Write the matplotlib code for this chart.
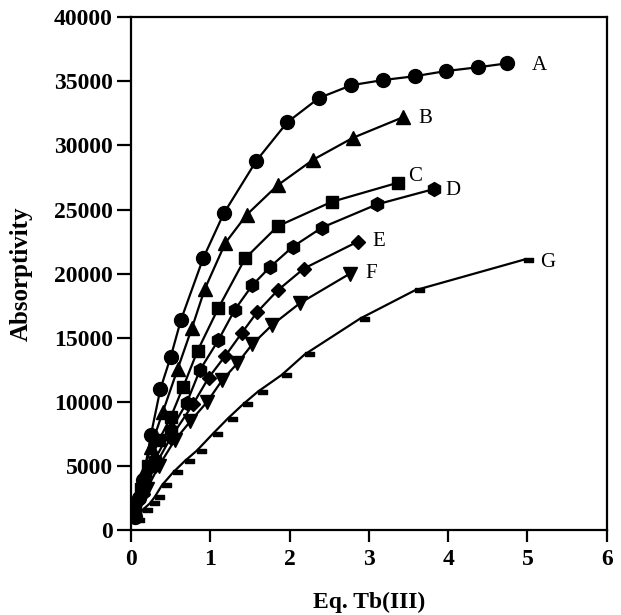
import matplotlib.pyplot as plt
from matplotlib.path import Path

# Absorptivity titration curves, one per sample
a_x = [0.05, 0.10, 0.15, 0.25, 0.37, 0.50, 0.63, 0.91, 1.17, 1.58, 1.97, 2.37, 2.78, 3.18, 3.58, 3.97, 4.38, 4.74]
a_y = [1000, 2500, 3900, 7400, 11000, 13500, 16400, 21200, 24700, 28800, 31800, 33700, 34700, 35100, 35400, 35800, 36100, 36400]

b_x = [0.00, 0.10, 0.17, 0.25, 0.40, 0.59, 0.77, 0.93, 1.19, 1.46, 1.85, 2.30, 2.80, 3.43]
b_y = [1800, 3000, 4700, 6500, 9200, 12600, 15800, 18800, 22400, 24600, 26900, 28900, 30600, 32200]

c_x = [0.05, 0.12, 0.22, 0.35, 0.50, 0.66, 0.84, 1.10, 1.44, 1.85, 2.53, 3.37]
c_y = [1500, 3200, 5000, 7000, 8800, 11200, 14000, 17300, 21200, 23700, 25600, 27100]

d_x = [0.05, 0.15, 0.30, 0.50, 0.70, 0.87, 1.10, 1.31, 1.53, 1.75, 2.04, 2.41, 3.10, 3.82]
d_y = [1200, 3000, 5500, 7800, 9900, 12500, 14800, 17200, 19100, 20500, 22100, 23600, 25400, 26600]

e_x = [0.05, 0.15, 0.30, 0.50, 0.78, 0.98, 1.19, 1.40, 1.59, 1.85, 2.18, 2.86]
e_y = [1100, 2800, 5000, 7200, 9800, 11900, 13600, 15400, 17000, 18700, 20400, 22500]

f_x = [0.08, 0.20, 0.35, 0.55, 0.75, 0.96, 1.15, 1.34, 1.53, 1.78, 2.13, 2.76]
f_y = [1800, 3200, 5000, 7000, 8500, 10000, 11700, 13000, 14500, 16000, 17700, 20000]

g_x = [0.05, 0.15, 0.24, 0.30, 0.39, 0.53, 0.68, 0.83, 1.03, 1.22, 1.41, 1.60, 1.90, 2.19, 2.89, 3.58, 4.96]
g_y = [800, 1600, 2100, 2600, 3500, 4500, 5400, 6200, 7500, 8700, 9800, 10800, 12100, 13700, 16500, 18700, 21100]

labels = ['A', 'B', 'C', 'D', 'E', 'F', 'G']
label_x = [5.06, 3.62, 3.49, 3.97, 3.05, 2.96, 5.16]
label_y = [36200, 32100, 27600, 26500, 22500, 20000, 20900]

# dash marker sitting to the right of its point
dash = Path([(0, -0.2), (1, -0.2), (1, 0.2), (0, 0.2), (0, -0.2)],
            [Path.MOVETO, Path.LINETO, Path.LINETO, Path.LINETO, Path.CLOSEPOLY])

plt.rcParams['font.family'] = ['Liberation Serif', 'DejaVu Serif']

fig = plt.figure(figsize=(6.21, 6.15), dpi=100)
ax = fig.add_axes([0.211, 0.138, 0.766, 0.834])

series = [
    (a_x, a_y, 'o', 10),
    (b_x, b_y, '^', 10),
    (c_x, c_y, 's', 9),
    (d_x, d_y, 'h', 10),
    (e_x, e_y, 'D', 7),
    (f_x, f_y, 'v', 10),
]
for xs, ys, m, ms in series:
    ax.plot(xs, ys, color='black', lw=1.6, marker=m, markersize=ms)
ax.plot(g_x, g_y, color='black', lw=1.6, marker=dash, markersize=13)

for lab, lx, ly in zip(labels, label_x, label_y):
    ax.text(lx, ly, lab, fontsize=15, ha='left', va='center')

ax.set_xlim(0, 6)
ax.set_ylim(0, 40000)
ax.set_xticks(range(0, 7))
ax.set_yticks(range(0, 40001, 5000))
for s in ax.spines.values():
    s.set_linewidth(1.6)
ax.tick_params(axis='x', direction='out', length=8.5, width=1.6, labelsize=17, pad=5)
ax.tick_params(axis='y', direction='out', length=10, width=1.6, labelsize=17, pad=3)
for t in ax.get_xticklabels() + ax.get_yticklabels():
    t.set_fontweight('bold')
ax.set_xlabel('Eq. Tb(III)', fontsize=17, fontweight='bold')
ax.set_ylabel('Absorptivity', fontsize=18, fontweight='bold')
ax.xaxis.set_label_coords(0.5, -0.12)
ax.yaxis.set_label_coords(-0.206, 0.5)

fig.savefig('out.png', dpi=100)
